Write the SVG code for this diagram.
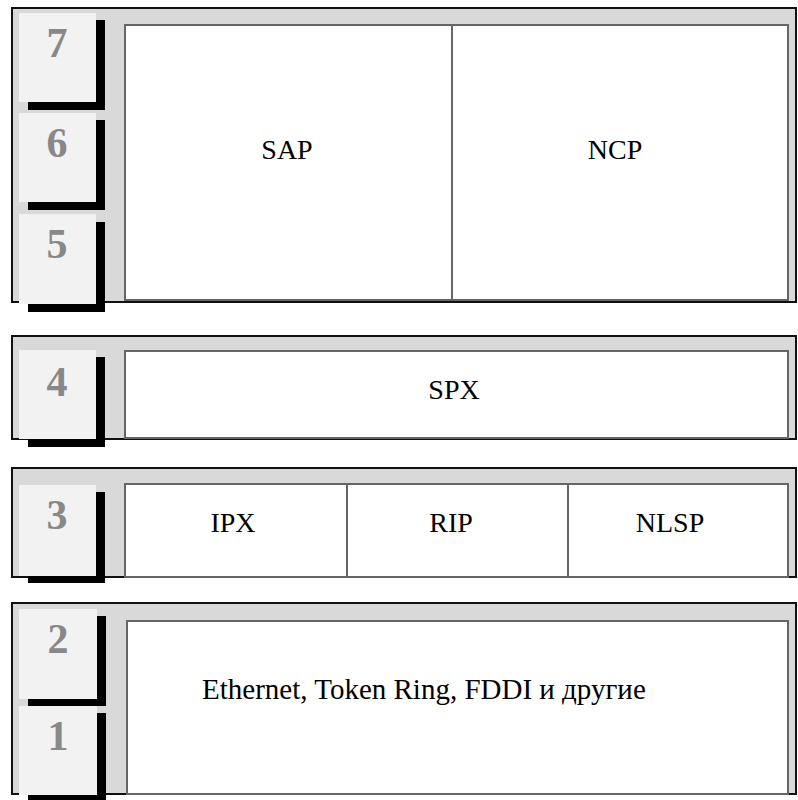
<svg xmlns="http://www.w3.org/2000/svg" width="798" height="800" viewBox="0 0 798 800">
  <style>
    .band { fill: #d9d9d9; stroke: #111; stroke-width: 2; }
    .cell { fill: #ffffff; stroke: #666; stroke-width: 2; }
    .div { stroke: #666; stroke-width: 2; }
    .shadow { fill: #000; }
    .tile { fill: #f2f2f2; }
    .num { font-family: "Liberation Serif", "Times New Roman", serif; font-weight: bold; font-size: 42px; fill: #888; text-anchor: middle; }
    .lbl { font-family: "Liberation Serif", "Times New Roman", serif; font-size: 28px; fill: #000; text-anchor: middle; }
  </style>
  <rect width="798" height="800" fill="#ffffff"/>

  <!-- Layers 7-5: application / presentation / session -->
  <g id="band-upper">
    <rect class="band" x="12" y="8" width="784" height="294"/>
    <rect class="cell" x="125" y="25" width="663" height="275"/>
    <line class="div" x1="452" y1="25" x2="452" y2="300"/>
    <text class="lbl" x="287" y="159">SAP</text>
    <text class="lbl" x="615" y="159">NCP</text>
  </g>

  <!-- Layer 4: transport -->
  <g id="band-transport">
    <rect class="band" x="12" y="336" width="784" height="103"/>
    <rect class="cell" x="125" y="351" width="663" height="87"/>
    <text class="lbl" x="454" y="399">SPX</text>
  </g>

  <!-- Layer 3: network -->
  <g id="band-network">
    <rect class="band" x="12" y="468" width="784" height="109"/>
    <rect class="cell" x="125" y="484" width="663" height="93"/>
    <line class="div" x1="347" y1="484" x2="347" y2="577"/>
    <line class="div" x1="568" y1="484" x2="568" y2="577"/>
    <text class="lbl" x="233" y="532">IPX</text>
    <text class="lbl" x="451" y="532">RIP</text>
    <text class="lbl" x="670" y="532">NLSP</text>
  </g>

  <!-- Layers 2-1: data link / physical -->
  <g id="band-link">
    <rect class="band" x="12" y="603" width="784" height="191"/>
    <rect class="cell" x="127" y="621" width="661" height="173"/>
    <text class="lbl" x="202" y="699" style="text-anchor:start;font-size:29px">Ethernet, Token Ring, FDDI и другие</text>
  </g>

  <!-- Layer number tiles with drop shadows -->
  <g id="tile-7">
    <rect class="shadow" x="28" y="20" width="77" height="90"/>
    <rect class="tile" x="19" y="13" width="77" height="89"/>
    <text class="num" x="57" y="57">7</text>
  </g>
  <g id="tile-6">
    <rect class="shadow" x="28" y="120" width="77" height="90"/>
    <rect class="tile" x="19" y="113" width="77" height="89"/>
    <text class="num" x="57" y="157">6</text>
  </g>
  <g id="tile-5">
    <rect class="shadow" x="28" y="222" width="77" height="90"/>
    <rect class="tile" x="19" y="214" width="77" height="90"/>
    <text class="num" x="57" y="258">5</text>
  </g>
  <g id="tile-4">
    <rect class="shadow" x="28" y="357" width="77" height="90"/>
    <rect class="tile" x="19" y="350" width="77" height="89"/>
    <text class="num" x="57" y="396">4</text>
  </g>
  <g id="tile-3">
    <rect class="shadow" x="28" y="492" width="77" height="91"/>
    <rect class="tile" x="19" y="485" width="77" height="91"/>
    <text class="num" x="57" y="529">3</text>
  </g>
  <g id="tile-2">
    <rect class="shadow" x="28" y="616" width="78" height="90"/>
    <rect class="tile" x="19" y="609" width="78" height="90"/>
    <text class="num" x="58" y="653">2</text>
  </g>
  <g id="tile-1">
    <rect class="shadow" x="28" y="713" width="78" height="90"/>
    <rect class="tile" x="19" y="706" width="78" height="89"/>
    <text class="num" x="58" y="750">1</text>
  </g>

  <g id="connectors"/>
</svg>
